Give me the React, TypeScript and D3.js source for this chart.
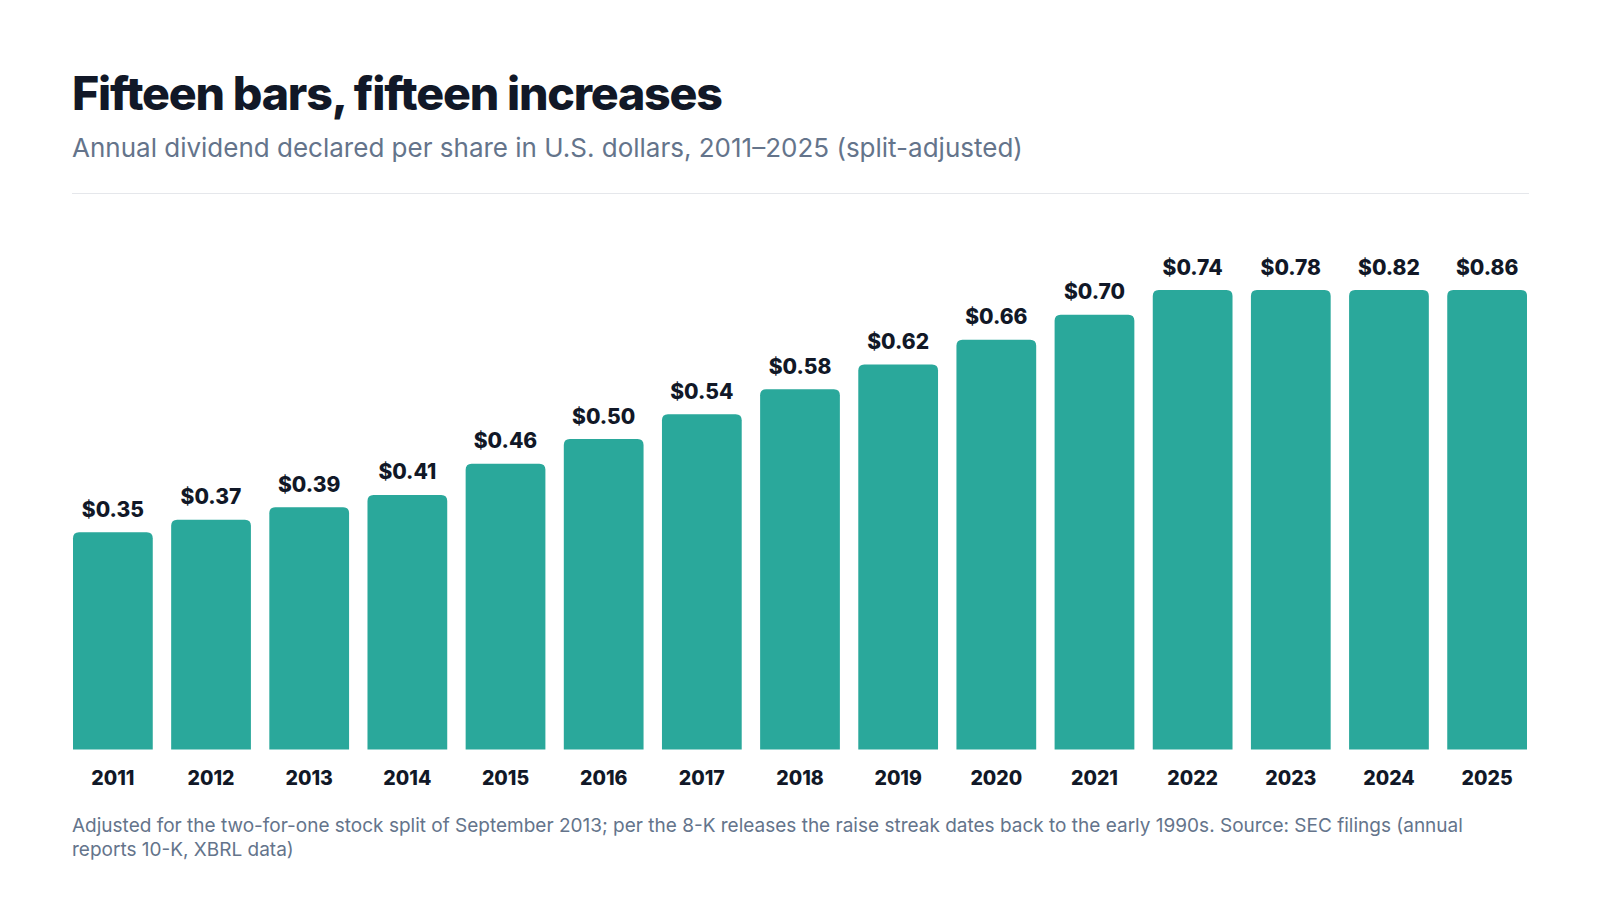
import React, { useEffect, useRef } from 'react';
import * as d3 from 'd3';

const years = ['2011', '2012', '2013', '2014', '2015', '2016', '2017', '2018', '2019', '2020', '2021', '2022', '2023', '2024', '2025'];
const dividends = [0.35, 0.37, 0.39, 0.41, 0.46, 0.5, 0.54, 0.58, 0.62, 0.66, 0.7, 0.74, 0.78, 0.82, 0.86];
// the source chart tops out its scale at 0.74, later bars are clipped there
const yDomain = [0, 0.74];

const title = 'Fifteen bars, fifteen increases';
const subtitle = 'Annual dividend declared per share in U.S. dollars, 2011–2025 (split-adjusted)';
const footnoteLines = [
  'Adjusted for the two-for-one stock split of September 2013; per the 8-K releases the raise streak dates back to the early 1990s. Source: SEC filings (annual',
  'reports 10-K, XBRL data)',
];

const W = 1600;
const H = 900;

export default function App() {
  const svgRef = useRef<SVGSVGElement | null>(null);

  useEffect(() => {
    document.body.style.margin = '0';
    if (!svgRef.current) return;
    const svg = d3.select(svgRef.current);
    svg.selectAll('*').remove();

    const font = 'Inter, "Noto Sans", sans-serif';
    const left = 72;
    const right = 1529;

    // header
    svg.append('text')
      .attr('x', left).attr('y', 109.5)
      .attr('font-family', font).attr('font-size', 46.5).attr('font-weight', 800)
      .attr('letter-spacing', '-1.2px')
      .attr('fill', '#111827')
      .text(title);

    svg.append('text')
      .attr('x', left).attr('y', 157)
      .attr('font-family', font).attr('font-size', 26)
      .attr('fill', '#64748b')
      .text(subtitle);

    svg.append('line')
      .attr('x1', left).attr('x2', right)
      .attr('y1', 193.5).attr('y2', 193.5)
      .attr('stroke', '#e5e7eb').attr('stroke-width', 1);

    const x = d3.scaleBand<string>()
      .domain(years)
      .range([73, 1527])
      .paddingInner(0.1875)
      .paddingOuter(0);

    const y = d3.scaleLinear()
      .domain(yDomain)
      .range([749.5, 290])
      .clamp(true);

    const data = years.map((yr, i) => ({ yr, v: dividends[i] }));
    const r = 6;

    // bars with rounded top corners only
    svg.append('g')
      .selectAll('path')
      .data(data)
      .enter()
      .append('path')
      .attr('fill', '#2aa89b')
      .attr('d', d => {
        const x0 = x(d.yr) || 0;
        const w = x.bandwidth();
        const top = y(d.v);
        const bot = y(0);
        return `M${x0},${bot}V${top + r}Q${x0},${top} ${x0 + r},${top}H${x0 + w - r}Q${x0 + w},${top} ${x0 + w},${top + r}V${bot}Z`;
      });

    svg.append('g')
      .selectAll('text')
      .data(data)
      .enter()
      .append('text')
      .attr('x', d => (x(d.yr) || 0) + x.bandwidth() / 2)
      .attr('y', d => y(d.v) - 15.5)
      .attr('text-anchor', 'middle')
      .attr('font-family', font).attr('font-size', 21).attr('font-weight', 800)
      .attr('fill', '#111827')
      .text(d => `$${d.v.toFixed(2)}`);

    const xAxis = d3.axisBottom(x).tickSize(0).tickPadding(0);
    svg.append('g')
      .attr('transform', `translate(0, ${y(0)})`)
      .call(xAxis)
      .call(g => g.select('.domain').remove())
      .selectAll('text')
      .attr('dy', 0)
      .attr('y', 35.5)
      .attr('font-family', font).attr('font-size', 19.5).attr('font-weight', 800)
      .attr('fill', '#111827');

    svg.append('text')
      .attr('font-family', font).attr('font-size', 19)
      .attr('fill', '#64748b')
      .selectAll('tspan')
      .data(footnoteLines)
      .enter()
      .append('tspan')
      .attr('x', left)
      .attr('y', (_d, i) => 832 + i * 24)
      .text(d => d);
  }, []);

  return (
    <svg ref={svgRef} width={W} height={H} viewBox={`0 0 ${W} ${H}`} style={{ display: 'block', background: '#fff' }} />
  );
}
